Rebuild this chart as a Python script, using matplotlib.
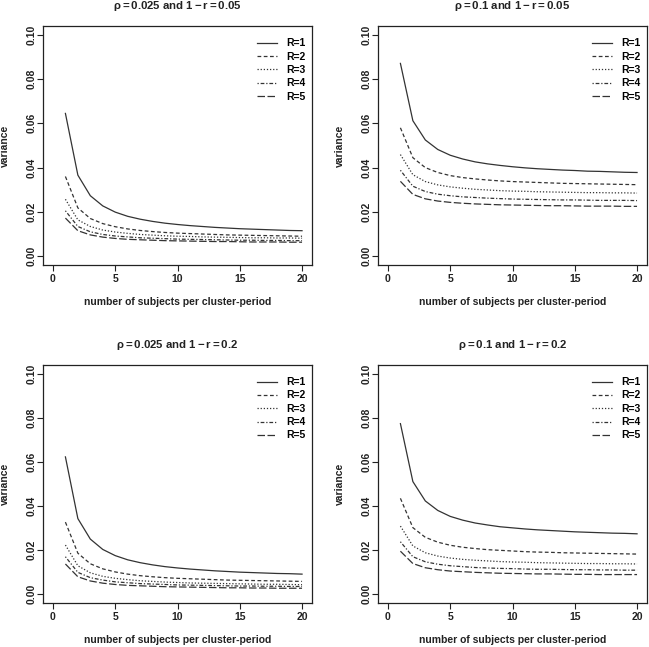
import numpy as np
import matplotlib
matplotlib.use("Agg")
import matplotlib.pyplot as plt

plt.rcParams['font.family'] = ['Liberation Sans', 'DejaVu Sans']
plt.rcParams['mathtext.fontset'] = 'custom'
plt.rcParams['mathtext.rm'] = 'Liberation Sans:bold'
plt.rcParams['mathtext.it'] = 'Liberation Sans:bold'

m = list(range(1, 21))

# panel 1: rho = 0.025, 1 - r = 0.05
p1_r1 = [0.0645, 0.0366, 0.0273, 0.0227, 0.0199, 0.0180, 0.0167, 0.0157, 0.0149, 0.0143,
         0.0138, 0.0134, 0.0130, 0.0127, 0.0124, 0.0122, 0.0120, 0.0118, 0.0116, 0.0115]
p1_r2 = [0.0360, 0.0218, 0.0170, 0.0147, 0.0133, 0.0123, 0.0116, 0.0111, 0.0107, 0.0104,
         0.0102, 0.0100, 0.0098, 0.0096, 0.0095, 0.0094, 0.0093, 0.0092, 0.0091, 0.0090]
p1_r3 = [0.0257, 0.0164, 0.0134, 0.0118, 0.0109, 0.0103, 0.0098, 0.0095, 0.0092, 0.0090,
         0.0089, 0.0087, 0.0086, 0.0085, 0.0084, 0.0083, 0.0083, 0.0082, 0.0082, 0.0081]
p1_r4 = [0.0205, 0.0134, 0.0110, 0.0098, 0.0091, 0.0087, 0.0083, 0.0081, 0.0079, 0.0077,
         0.0076, 0.0075, 0.0074, 0.0073, 0.0072, 0.0072, 0.0071, 0.0071, 0.0070, 0.0070]
p1_r5 = [0.0172, 0.0115, 0.0096, 0.0086, 0.0080, 0.0076, 0.0074, 0.0072, 0.0070, 0.0069,
         0.0068, 0.0067, 0.0066, 0.0066, 0.0065, 0.0064, 0.0064, 0.0064, 0.0063, 0.0063]

# panel 2: rho = 0.1, 1 - r = 0.05
p2_r1 = [0.0871, 0.0612, 0.0525, 0.0482, 0.0456, 0.0439, 0.0426, 0.0417, 0.0410, 0.0404,
         0.0399, 0.0395, 0.0392, 0.0389, 0.0387, 0.0384, 0.0383, 0.0381, 0.0379, 0.0378]
p2_r2 = [0.0580, 0.0445, 0.0400, 0.0378, 0.0364, 0.0355, 0.0349, 0.0344, 0.0340, 0.0337,
         0.0335, 0.0333, 0.0331, 0.0329, 0.0328, 0.0327, 0.0326, 0.0325, 0.0324, 0.0323]
p2_r3 = [0.0459, 0.0368, 0.0337, 0.0322, 0.0313, 0.0307, 0.0302, 0.0299, 0.0296, 0.0294,
         0.0293, 0.0291, 0.0290, 0.0289, 0.0288, 0.0287, 0.0287, 0.0286, 0.0286, 0.0285]
p2_r4 = [0.0388, 0.0316, 0.0292, 0.0280, 0.0273, 0.0268, 0.0265, 0.0262, 0.0260, 0.0258,
         0.0257, 0.0256, 0.0255, 0.0254, 0.0254, 0.0253, 0.0252, 0.0252, 0.0252, 0.0251]
p2_r5 = [0.0338, 0.0279, 0.0259, 0.0249, 0.0243, 0.0239, 0.0236, 0.0234, 0.0232, 0.0231,
         0.0230, 0.0229, 0.0228, 0.0228, 0.0227, 0.0226, 0.0226, 0.0226, 0.0225, 0.0225]

# panel 3: rho = 0.025, 1 - r = 0.2
p3_r1 = [0.0623, 0.0343, 0.0250, 0.0203, 0.0175, 0.0156, 0.0143, 0.0133, 0.0125, 0.0119,
         0.0114, 0.0110, 0.0106, 0.0103, 0.0100, 0.0098, 0.0096, 0.0094, 0.0093, 0.0091]
p3_r2 = [0.0327, 0.0186, 0.0138, 0.0115, 0.0101, 0.0091, 0.0084, 0.0079, 0.0075, 0.0072,
         0.0070, 0.0068, 0.0066, 0.0064, 0.0063, 0.0062, 0.0061, 0.0060, 0.0059, 0.0058]
p3_r3 = [0.0223, 0.0129, 0.0097, 0.0081, 0.0072, 0.0066, 0.0061, 0.0058, 0.0055, 0.0053,
         0.0051, 0.0050, 0.0049, 0.0048, 0.0047, 0.0046, 0.0045, 0.0045, 0.0044, 0.0043]
p3_r4 = [0.0170, 0.0099, 0.0075, 0.0064, 0.0056, 0.0052, 0.0048, 0.0046, 0.0044, 0.0042,
         0.0041, 0.0040, 0.0039, 0.0038, 0.0037, 0.0037, 0.0036, 0.0036, 0.0035, 0.0035]
p3_r5 = [0.0137, 0.0079, 0.0060, 0.0050, 0.0044, 0.0040, 0.0038, 0.0036, 0.0034, 0.0033,
         0.0032, 0.0031, 0.0030, 0.0029, 0.0029, 0.0028, 0.0028, 0.0027, 0.0027, 0.0027]

# panel 4: rho = 0.1, 1 - r = 0.2
p4_r1 = [0.0774, 0.0511, 0.0423, 0.0380, 0.0353, 0.0336, 0.0323, 0.0314, 0.0306, 0.0301,
         0.0296, 0.0292, 0.0289, 0.0286, 0.0283, 0.0281, 0.0279, 0.0277, 0.0276, 0.0274]
p4_r2 = [0.0435, 0.0302, 0.0258, 0.0236, 0.0222, 0.0213, 0.0207, 0.0202, 0.0199, 0.0196,
         0.0193, 0.0191, 0.0190, 0.0188, 0.0187, 0.0186, 0.0185, 0.0184, 0.0183, 0.0182]
p4_r3 = [0.0309, 0.0219, 0.0188, 0.0173, 0.0164, 0.0158, 0.0154, 0.0151, 0.0148, 0.0146,
         0.0145, 0.0143, 0.0142, 0.0141, 0.0140, 0.0139, 0.0139, 0.0138, 0.0138, 0.0137]
p4_r4 = [0.0238, 0.0170, 0.0147, 0.0136, 0.0129, 0.0125, 0.0121, 0.0119, 0.0117, 0.0116,
         0.0114, 0.0113, 0.0113, 0.0112, 0.0111, 0.0111, 0.0110, 0.0110, 0.0109, 0.0109]
p4_r5 = [0.0195, 0.0139, 0.0120, 0.0111, 0.0105, 0.0102, 0.0099, 0.0097, 0.0095, 0.0094,
         0.0093, 0.0092, 0.0092, 0.0091, 0.0090, 0.0090, 0.0089, 0.0089, 0.0089, 0.0089]

titles = [r"$\rho = 0.025$ and $1 - r = 0.05$",
          r"$\rho = 0.1$ and $1 - r = 0.05$",
          r"$\rho = 0.025$ and $1 - r = 0.2$",
          r"$\rho = 0.1$ and $1 - r = 0.2$"]
panels = [[p1_r1, p1_r2, p1_r3, p1_r4, p1_r5],
          [p2_r1, p2_r2, p2_r3, p2_r4, p2_r5],
          [p3_r1, p3_r2, p3_r3, p3_r4, p3_r5],
          [p4_r1, p4_r2, p4_r3, p4_r4, p4_r5]]
labels = ["R=1", "R=2", "R=3", "R=4", "R=5"]

styles = ["-", (0, (3, 2)), (0, (1, 1.5)), (0, (1, 1.5, 3, 1.5)), (0, (6, 2))]
col = "#333333"
txt = "#222222"
fs = 7.5

fig = plt.figure(figsize=(6.49, 6.47), dpi=100)
W = 269 / 649
boxes = [(43 / 649, 1 - 265 / 647, W, 239 / 647),
         (378 / 649, 1 - 265 / 647, W, 239 / 647),
         (43 / 649, 1 - 603 / 647, W, 238 / 647),
         (378 / 649, 1 - 603 / 647, W, 238 / 647)]

for box, title, series in zip(boxes, titles, panels):
    ax = fig.add_axes(box)
    for y, ls, lab in zip(series, styles, labels):
        ax.plot(m, y, color=col, linestyle=ls, linewidth=0.9, label=lab)
    ax.set_xlim(-0.8, 20.8)
    ax.set_ylim(-0.004, 0.104)
    ax.set_xticks([0, 5, 10, 15, 20])
    ax.set_yticks([0.00, 0.02, 0.04, 0.06, 0.08, 0.10])
    ax.set_yticklabels(["0.00", "0.02", "0.04", "0.06", "0.08", "0.10"],
                       rotation=90, va="center")
    ax.tick_params(direction="out", length=4, width=0.8, labelsize=fs,
                   colors=txt)
    ax.tick_params(axis="x", pad=2.5)
    ax.tick_params(axis="y", pad=0.3)
    for lbl in ax.get_xticklabels() + ax.get_yticklabels():
        lbl.set_fontweight("bold")
    for sp in ax.spines.values():
        sp.set_color(txt)
        sp.set_linewidth(0.9)
    hpx = box[3] * 647
    ax.set_xlabel("number of subjects per cluster-period", fontsize=fs,
                  fontweight="bold", color=txt)
    ax.xaxis.set_label_coords(0.5, -37 / hpx)
    ax.xaxis.label.set_va("center")
    ax.set_ylabel("variance", fontsize=fs, fontweight="bold", color=txt)
    ax.yaxis.set_label_coords(-38 / 269, 0.5)
    ax.yaxis.label.set_va("center")
    ax.text(0.5, 1 + 20 / hpx, title, transform=ax.transAxes, ha="center",
            va="center", fontsize=8.2, fontweight="bold", color=txt)
    ax.legend(loc="upper right", bbox_to_anchor=(1 - 2 / 269, 1 - 8 / hpx),
              frameon=False, handlelength=1.9, labelspacing=0.32,
              borderaxespad=0, handletextpad=0.95,
              prop={"weight": "bold", "size": fs})

fig.savefig("out.png", dpi=100)
